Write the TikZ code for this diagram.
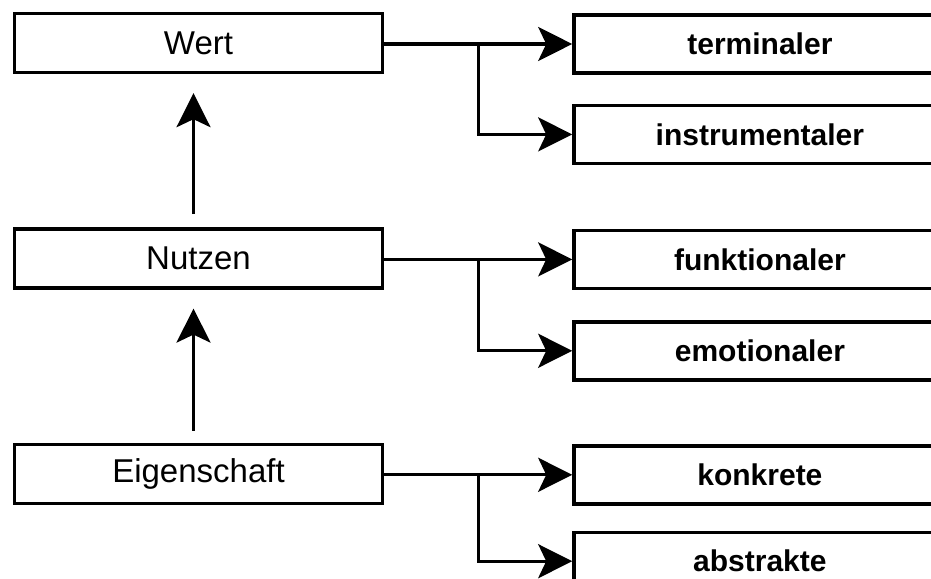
\documentclass[tikz,border=0pt]{standalone}
\usepackage{fontspec}
\setmainfont{Liberation Sans}
\usepackage{tikz}
\usetikzlibrary{positioning}
\usetikzlibrary{calc, arrows.meta}
\tikzstyle{arrow} = [line width=1.6pt,-{Stealth[length=17pt,width=17pt,inset=4pt]}]
\tikzstyle{leftbox} = [draw,line width=1.7pt,minimum width=184pt,minimum height=29.5pt,inner sep=0pt,font=\fontsize{16.5}{20}\selectfont]
\tikzstyle{rightbox} = [draw,line width=1.7pt,minimum height=29pt,inner sep=0pt,text width=250pt,align=left,font=\fontsize{15}{18}\selectfont\bfseries]
% text sits centred in the visible part of the box
\newcommand{\rtext}[1]{\makebox[186pt][c]{#1}}

\begin{document}
\begin{tikzpicture}
	\useasboundingbox (0,0) rectangle (465.5pt,-289pt);
	\clip (0,0) rectangle (465.5pt,-289pt);
	
	%Nodes
	\node [leftbox] (Wert) at (99.25pt,-21.5pt) {Wert};
	\node [leftbox, below=76.5pt of Wert] (Nutzen) {Nutzen};
	\node [leftbox, below=76.5pt of Nutzen] (Eig) {Eigenschaft};
	
	\node [rightbox, right=94pt of Wert, yshift=-0.5pt] (Term) {\rtext{terminaler}};
	\node [rightbox, below=14.5pt of Term] (Instr) {\rtext{instrumentaler}};
	\node [rightbox, right=94pt of Nutzen, yshift=-0.5pt] (Funk) {\rtext{funktionaler}};
	\node [rightbox, below=15pt of Funk] (Emo) {\rtext{emotionaler}};
	\node [rightbox, right=94pt of Eig, yshift=-0.5pt] (Konk) {\rtext{konkrete}};
	\node [rightbox, below=12.5pt of Konk] (Abstr) {\rtext{abstrakte}};
	
	%Lines
	\draw[arrow, shorten <=6.5pt, shorten >=9.5pt] ([xshift=-2.5pt]Nutzen.north) -- ([xshift=-2.5pt]Wert.south);
	\draw[arrow, shorten <=6pt, shorten >=9.5pt] ([xshift=-2.5pt]Eig.north) -- ([xshift=-2.5pt]Nutzen.south);
	
	\draw[arrow] (Wert.east |- Term.west) -- (Term.west);
	\draw[arrow] ($(Wert.east)!0.5!(Term.west)$) |- (Instr.west);
	\draw[arrow] (Nutzen.east |- Funk.west) -- (Funk.west);
	\draw[arrow] ($(Nutzen.east)!0.5!(Funk.west)$) |- (Emo.west);
	\draw[arrow] (Eig.east |- Konk.west) -- (Konk.west);
	\draw[arrow] ($(Eig.east)!0.5!(Konk.west)$) |- (Abstr.west);
	
\end{tikzpicture}
\end{document}
